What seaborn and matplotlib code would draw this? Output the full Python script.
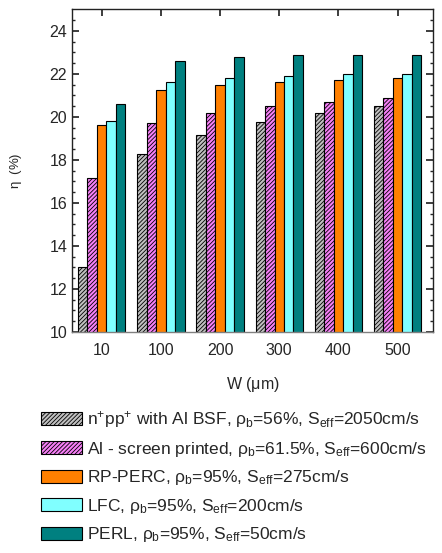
import numpy as np
import pandas as pd
import matplotlib
matplotlib.use("Agg")
import matplotlib.pyplot as plt
import seaborn as sns

widths = ["10", "100", "200", "300", "400", "500"]
series = [
    r"n$^{+}$pp$^{+}$ with Al BSF, $\rho_{\rm b}$=56%, S$_{\rm eff}$=2050cm/s",
    r"Al - screen printed, $\rho_{\rm b}$=61.5%, S$_{\rm eff}$=600cm/s",
    r"RP-PERC, $\rho_{\rm b}$=95%, S$_{\rm eff}$=275cm/s",
    r"LFC, $\rho_{\rm b}$=95%, S$_{\rm eff}$=200cm/s",
    r"PERL, $\rho_{\rm b}$=95%, S$_{\rm eff}$=50cm/s",
]
al_bsf = [13.0, 18.25, 19.15, 19.75, 20.2, 20.5]
al_sp = [17.15, 19.7, 20.2, 20.5, 20.7, 20.9]
rp_perc = [19.6, 21.25, 21.5, 21.6, 21.7, 21.8]
lfc = [19.8, 21.6, 21.8, 21.9, 22.0, 22.0]
perl = [20.6, 22.6, 22.8, 22.9, 22.9, 22.9]

colors = ["#c0c0c0", "#f77ff7", "#ff8000", "#80ffff", "#008080"]
hatches = ["////////", "////////", "", "", ""]

rows = []
for name, vals in zip(series, [al_bsf, al_sp, rp_perc, lfc, perl]):
    for w, v in zip(widths, vals):
        rows.append({"W": w, "eta": v, "cell": name})
df = pd.DataFrame(rows)

sns.set_theme(style="ticks")
plt.rcParams["font.family"] = ["Liberation Sans", "DejaVu Sans"]
plt.rcParams["mathtext.fontset"] = "custom"
plt.rcParams["mathtext.rm"] = "Liberation Sans"
plt.rcParams["mathtext.it"] = "Liberation Sans"
plt.rcParams["hatch.linewidth"] = 0.6

fig = plt.figure(figsize=(4.42, 5.53), dpi=100)
ax = fig.add_axes([0.163, 0.40, 0.817, 0.583])

sns.barplot(data=df, x="W", y="eta", hue="cell", hue_order=series,
            palette=colors, width=0.8, edgecolor="black", linewidth=0.8,
            saturation=1, ax=ax)

for cont, h in zip(ax.containers, hatches):
    for p in cont:
        p.set_hatch(h)

ax.get_legend().remove()

ax.set_ylim(10, 25)
ax.set_xlim(-0.5, 5.6)
ax.set_yticks(np.arange(10, 25, 2))
ax.set_yticks(np.arange(10, 25, 0.5), minor=True)
ax.tick_params(axis="y", which="both", direction="in", right=True, labelsize=11.5)
ax.tick_params(axis="y", which="major", length=5)
ax.tick_params(axis="y", which="minor", length=2.5)
ax.tick_params(axis="x", direction="in", top=True, bottom=False, length=5,
               labelsize=11.5, pad=8)
for s in ax.spines.values():
    s.set_linewidth(1.0)
    s.set_color("#222222")
ax.spines["bottom"].set_color("#808080")

ax.set_xlabel(r"W ($\mu$m)", fontsize=11.5, labelpad=12)
ax.set_ylabel(r"$\eta$  (%)", fontsize=9.5, labelpad=18)

handles = [cont.patches[0] for cont in ax.containers]
fig.legend(handles, series, loc="upper left", bbox_to_anchor=(0.093, 0.26),
           frameon=False, fontsize=12.5, handlelength=2.35, handleheight=0.8,
           labelspacing=0.55, handletextpad=0.3, borderpad=0, borderaxespad=0)

fig.savefig("out.png", dpi=100)
